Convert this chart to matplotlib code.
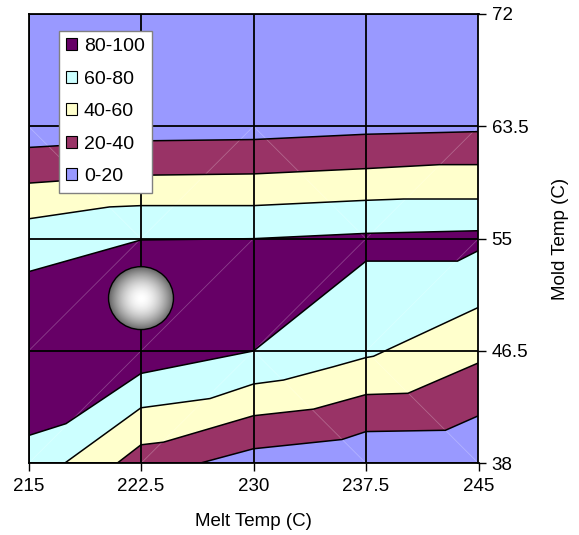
import numpy as np
import matplotlib.pyplot as plt
from matplotlib.patches import Polygon, Patch, Ellipse

plt.rcParams['font.family'] = ['Liberation Sans', 'DejaVu Sans']

# axis ticks
melt_ticks = [215, 222.5, 230, 237.5, 245]
mold_ticks = [38, 46.5, 55, 63.5, 72]

# band boundaries (lower edge / upper edge of each band), Melt Temp vs Mold Temp
b2040_lo_x = [215, 226.4, 230, 235.9, 237.5, 242.8, 245]
b2040_lo_y = [38, 38, 39.1, 39.8, 40.4, 40.5, 41.6]
b2040_hi_x = [215, 222.5, 230, 237.5, 245]
b2040_hi_y = [61.9, 62.4, 62.5, 62.9, 63.1]

b4060_lo_x = [215, 220.9, 222.5, 224, 230, 234, 237.5, 240.3, 245]
b4060_lo_y = [38, 38, 39.4, 39.6, 41.6, 42.1, 43.2, 43.3, 45.6]
b4060_hi_x = [215, 222.5, 230, 237.5, 242.4, 245]
b4060_hi_y = [59.2, 59.8, 59.9, 60.3, 60.6, 60.6]

b6080_lo_x = [215, 217.4, 222.5, 227.1, 230, 232, 235.3, 237.5, 238, 245]
b6080_lo_y = [38, 38, 42.2, 42.9, 44.0, 44.3, 45.3, 46.0, 46.1, 49.8]
b6080_hi_x = [215, 220.4, 222.5, 230, 237.5, 240, 245]
b6080_hi_y = [56.5, 57.4, 57.5, 57.5, 57.9, 58.0, 58.0]

b80100_lo_x = [215, 217.5, 222.5, 230, 237.5, 243.6, 245]
b80100_lo_y = [40.1, 41.0, 44.8, 46.5, 53.3, 53.3, 54.1]
b80100_hi_x = [215, 222.5, 230, 237.5, 245]
b80100_hi_y = [52.5, 54.9, 55.0, 55.4, 55.6]

band_labels = ['0-20', '20-40', '40-60', '60-80', '80-100']
band_colors = ['#9999FF', '#993366', '#FFFFCC', '#CCFFFF', '#660066']

# optimum marker
opt_melt = 222.5
opt_mold = 50.5

fig = plt.figure(figsize=(5.79, 5.35), dpi=100)
ax = fig.add_axes([28.5 / 579, 1 - 463.3 / 535, 450 / 579, 449.3 / 535])
ax.set_facecolor(band_colors[0])

bands = [
    (b2040_lo_x, b2040_lo_y, b2040_hi_x, b2040_hi_y),
    (b4060_lo_x, b4060_lo_y, b4060_hi_x, b4060_hi_y),
    (b6080_lo_x, b6080_lo_y, b6080_hi_x, b6080_hi_y),
    (b80100_lo_x, b80100_lo_y, b80100_hi_x, b80100_hi_y),
]
for i, (lx, ly, hx, hy) in enumerate(bands):
    pts = list(zip(lx, ly)) + list(zip(hx, hy))[::-1]
    ax.add_patch(Polygon(pts, closed=True, facecolor=band_colors[i + 1],
                         edgecolor='none', zorder=1))
    ax.plot(lx, ly, color='black', lw=1.1, zorder=2)
    ax.plot(hx, hy, color='black', lw=1.1, zorder=2)

# faint surface mesh diagonals
slopes = [[1, 1, -1, -1], [1, 1, 1, 1], [-1, 1, -1, 1]]
for r, row in enumerate(slopes):
    for c, s in enumerate(row):
        x0, x1 = melt_ticks[c], melt_ticks[c + 1]
        y0, y1 = mold_ticks[r], mold_ticks[r + 1]
        if s > 0:
            ax.plot([x0, x1], [y0, y1], color='white', alpha=0.25, lw=0.6, zorder=1.5)
        else:
            ax.plot([x0, x1], [y1, y0], color='white', alpha=0.25, lw=0.6, zorder=1.5)

# shaded sphere at the optimum
w, h = 4.33, 4.76
yy, xx = np.mgrid[-1:1:200j, -1:1:200j]
rr = np.clip(np.sqrt(xx ** 2 + yy ** 2), 0, 1)
shade = 1 - 0.6 * rr ** 1.8
ell = Ellipse((opt_melt, opt_mold), w, h, facecolor='none', edgecolor='black',
              lw=1, zorder=5)
ax.add_patch(ell)
im = ax.imshow(shade, cmap='gray', vmin=0, vmax=1, interpolation='bilinear',
               extent=[opt_melt - w / 2, opt_melt + w / 2, opt_mold - h / 2, opt_mold + h / 2],
               zorder=4, aspect='auto')
im.set_clip_path(ell)

ax.set_xlim(215, 245)
ax.set_ylim(38, 72)
ax.set_xticks(melt_ticks)
ax.set_xticklabels(['215', '222.5', '230', '237.5', '245'])
ax.set_yticks(mold_ticks)
ax.set_yticklabels(['38', '46.5', '55', '63.5', '72'])
ax.yaxis.tick_right()
ax.yaxis.set_label_position('right')
ax.tick_params(axis='both', direction='out', length=5.5, width=1, labelsize=13.5, pad=4)
ax.tick_params(axis='x', pad=5)
ax.grid(True, color='black', lw=1.3)
ax.set_axisbelow(False)
for sp in ax.spines.values():
    sp.set_color('black')
    sp.set_linewidth(1.3)

ax.set_xlabel('Melt Temp (C)', fontsize=13.5, labelpad=13)
ax.set_ylabel('Mold Temp (C)', fontsize=13.5, labelpad=17)

handles = [Patch(facecolor=c, edgecolor='black', lw=0.8, label=l)
           for c, l in zip(band_colors[::-1], band_labels[::-1])]
leg = ax.legend(handles=handles, loc='upper left', bbox_to_anchor=(0.068, 0.963),
                borderaxespad=0, fontsize=14, frameon=True, fancybox=False,
                edgecolor='#808080', framealpha=1, handlelength=0.55,
                handleheight=0.55, handletextpad=0.35, borderpad=0.38,
                labelspacing=0.8)
leg.get_frame().set_linewidth(1)
leg.set_zorder(10)

fig.savefig('out.png', dpi=100)
